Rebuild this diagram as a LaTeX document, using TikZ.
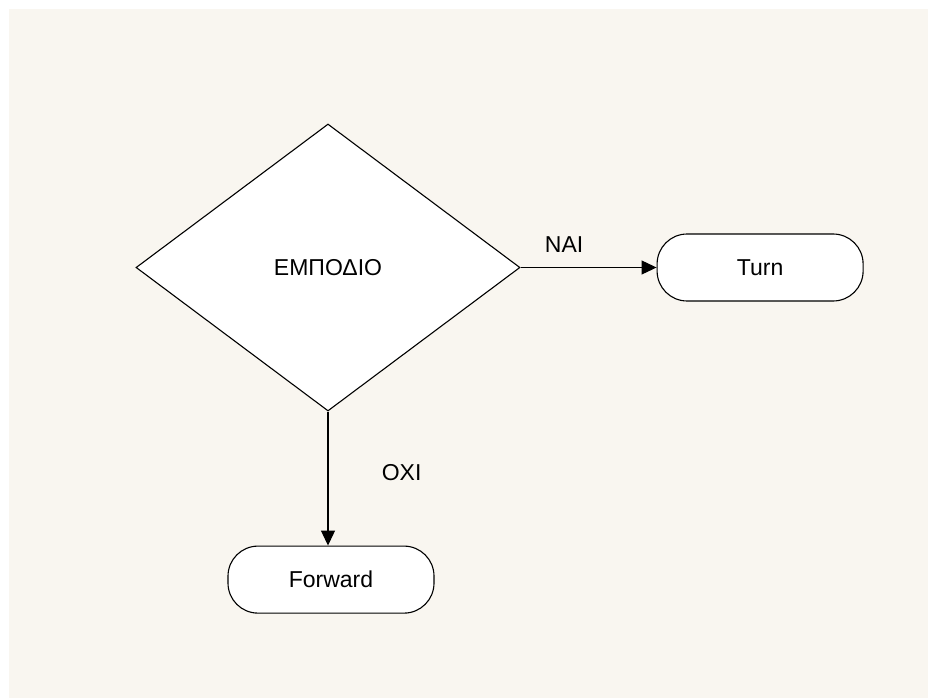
\documentclass[tikz,border=0pt]{standalone}
\usepackage{fontspec}
\setmainfont{Liberation Sans}
\usepackage{xcolor}
\usepackage{tikz}
\usetikzlibrary{shapes.geometric,arrows.meta,positioning}

\definecolor{paper}{RGB}{249,246,240}

\tikzset{
  decision/.style={diamond, draw=black, fill=white, line width=1.1pt,
    minimum width=384pt, minimum height=287pt, inner sep=0pt},
  terminal/.style={rectangle, rounded corners=30pt, draw=black, fill=white,
    line width=1.1pt, minimum width=206pt, minimum height=67pt},
  flow/.style={draw=black, line width=1.1pt, -{Triangle[length=15pt,width=14pt]}},
  answer/.style={inner sep=3.3pt}
}

\begin{document}
\begin{tikzpicture}[x=1pt, y=-1pt, font=\fontsize{23}{27}\selectfont]
 % page
 \useasboundingbox (0,0) rectangle (928,698);
 \fill[white] (0,0) rectangle (928,698);
 \fill[paper] (9,9) rectangle (928,698);

% nodes
 \node[decision] (obstacle) at (328,267.5) {ΕΜΠΟΔΙΟ};
 \node[terminal, right=136pt of obstacle] (turn) {Turn};
 \node[terminal, below=134pt of obstacle, xshift=3pt] (forward) {Forward};

% edges
 \draw[flow] (obstacle.east) -- node[answer, pos=0.32, above=11pt] {ΝΑΙ} (turn.west);
 \draw[flow] (obstacle.south) -- node[answer, pos=0.455, right=50pt] {ΟΧΙ}
   (obstacle.south |- forward.north);
\end{tikzpicture}
\end{document}
